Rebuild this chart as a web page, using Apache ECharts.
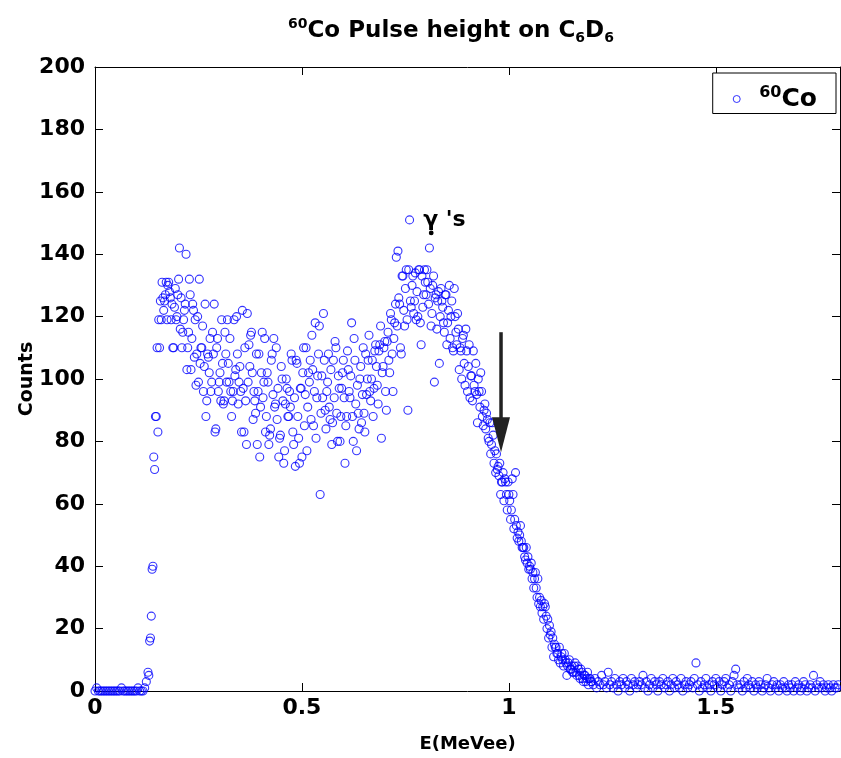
<!DOCTYPE html>
<html><head><meta charset="utf-8">
<script src="https://cdn.jsdelivr.net/npm/echarts@6/dist/echarts.min.js"></script>
<style>html,body{margin:0;padding:0;background:#fff}#c{width:841px;height:758px}</style>
</head><body><div id="c"></div>
<script>
// Energy calibration of the pulse-height channels (MeVee per channel)
const channelWidthMeV = 0.004;
// Counts per channel (channel 0 .. 449, at E = ch * width)
const counts = [
  0,1,0,0,0,0,0,0,0,0,
  0,0,0,0,0,0,1,0,0,0,
  0,0,0,0,0,0,1,0,0,0,
  1,3,6,16,24,40,71,88,83,110,
  119,126,125,131,130,128,119,110,123,119,
  127,142,126,115,122,140,110,132,103,124,
  107,98,120,132,110,117,104,88,108,102,
  96,115,124,84,113,99,93,105,93,108,
  119,99,96,93,119,103,108,99,96,122,
  83,93,121,111,114,102,96,89,79,108,
  91,115,99,83,102,79,84,108,113,92,
  87,75,82,100,73,92,97,88,91,106,
  79,72,105,81,97,75,110,95,77,102,
  106,114,85,118,94,108,63,101,121,90,
  96,108,87,79,106,112,89,101,80,97,
  106,73,88,103,94,118,80,106,77,89,
  100,86,110,83,95,106,96,100,88,109,
  104,92,111,81,104,112,90,115,102,119,
  96,118,139,141,124,108,133,117,135,90,
  151,123,133,125,119,120,135,111,123,135,
  127,131,142,117,130,99,127,125,105,129,
  123,115,127,118,130,120,110,129,115,121,
  103,109,113,105,116,96,111,101,93,98,
  105,86,96,102,88,90,84,87,80,76,
  86,73,70,71,69,63,67,61,67,58,
  63,55,68,52,70,49,48,53,46,46,
  42,41,39,39,36,33,38,30,28,27,
  25,23,27,20,17,18,14,11,14,12,
  10,9,12,8,10,5,9,7,8,6,
  9,5,7,4,6,3,5,4,2,4,
  3,2,4,1,3,2,5,2,3,1,
  6,2,3,1,4,2,0,3,2,4,
  1,3,2,0,4,2,3,1,2,3,
  2,5,1,3,0,2,4,1,3,2,
  0,3,2,4,1,2,3,0,2,4,
  1,3,2,1,4,0,2,3,1,2,
  3,1,4,9,2,0,3,1,2,4,
  1,2,0,3,2,4,1,3,0,2,
  3,4,1,2,0,3,5,7,2,1,
  2,0,3,1,4,2,1,3,0,2,
  1,3,2,0,1,2,4,1,0,2,
  3,1,2,0,2,1,3,1,0,2,
  1,2,0,3,1,2,0,1,3,2,
  0,1,2,1,5,0,2,1,3,1,
  2,0,1,2,1,0,2,1,1,2
];
// Half-channel readings (E = (k + 0.5) * width), k = 32 .. 299
const halfChannelStart = 32;
const countsHalf = [
  5,17,39,75,88,110,119,125,
  131,122,127,119,131,126,124,110,129,120,
  132,116,110,119,124,103,115,127,113,122,
  119,108,99,105,110,96,124,93,107,113,
  99,108,83,110,96,102,119,92,115,99,
  105,113,88,96,101,120,92,104,83,97,
  110,79,99,104,115,87,93,108,96,75,
  102,94,113,88,99,82,106,95,91,110,
  97,81,104,93,77,100,88,96,108,83,
  94,106,88,73,97,102,85,110,91,99,
  87,103,96,81,101,117,89,94,106,84,
  99,91,103,86,94,110,80,97,88,102,
  94,85,109,96,101,88,113,92,98,84,
  104,95,89,108,100,114,93,106,97,111,
  98,109,117,102,110,96,112,106,121,108,
  113,124,117,126,110,133,122,129,119,135,
  125,130,121,134,128,135,118,133,127,131,
  135,124,129,121,133,126,116,128,120,125,
  118,127,111,122,113,125,109,120,111,116,
  110,100,114,98,109,104,94,101,109,96,
  95,100,91,96,85,92,89,81,86,79,
  82,77,76,72,73,67,70,68,63,67,
  61,58,63,55,53,51,50,48,46,43,
  46,43,40,41,38,36,33,36,30,29,
  27,28,24,23,21,19,17,15,14,12,
  14,11,10,12,9,8,10,7,6,8,
  6,8,5,7,4,5,3,6,4,3
];
const seriesName = '60Co';
const xRange = [0, 1.8];
const yRange = [0, 200];
const xInterval = 0.5;
const yInterval = 20;
// annotation anchors in data space
const arrowE = 0.981, arrowTopCounts = 115, arrowTipCounts = 76.5;
const gammaLabelE = 0.793, gammaLabelCounts = 151;

const points = counts.map((c, i) => [i * channelWidthMeV, c])
  .concat(countsHalf.map((c, j) => [(halfChannelStart + j + 0.5) * channelWidthMeV, c]));

const FONT = 'DejaVu Sans';
const lblStyle = {color:'#000', fontFamily:FONT, fontWeight:'bold', fontSize:22};
const chart = echarts.init(document.getElementById('c'), null, {renderer:'canvas'});
const axisCommon = {
  axisLine:{show:true, onZero:false, lineStyle:{color:'#000', width:1}},
  axisTick:{show:true, inside:true, length:8, lineStyle:{color:'#000', width:1}},
  splitLine:{show:false}
};
const option = {
  animation:false,
  backgroundColor:'#fff',
  title:{
    text:'{sup|60}{main|Co Pulse height on C}{sub|6}{main|D}{sub|6}',
    left:288, top:17, padding:0,
    textStyle:{rich:{
      main:{fontSize:23, fontWeight:'bold', fontFamily:FONT, color:'#000', lineHeight:28},
      sup:{fontSize:14, fontWeight:'bold', fontFamily:FONT, color:'#000', lineHeight:2, verticalAlign:'top'},
      sub:{fontSize:14, fontWeight:'bold', fontFamily:FONT, color:'#000', lineHeight:2, verticalAlign:'bottom'}
    }}
  },
  legend:{
    right:5, top:73, orient:'vertical',
    backgroundColor:'#fff', borderColor:'#000', borderWidth:1, borderRadius:0,
    padding:[12,19,2,20],
    itemWidth:35, itemHeight:7, icon:'circle',
    itemStyle:{color:'rgba(0,0,0,0)', borderColor:'#0000ff', borderWidth:1},
    formatter: () => '{sup|60}{main|Co}',
    textStyle:{rich:{
      main:{fontSize:25, fontWeight:'bold', fontFamily:FONT, color:'#000', lineHeight:28},
      sup:{fontSize:16, fontWeight:'bold', fontFamily:FONT, color:'#000', lineHeight:2, verticalAlign:'top'}
    }},
    data:[seriesName]
  },
  grid:{left:95, right:1, top:67, bottom:67, containLabel:false},
  xAxis:[
    Object.assign({type:'value', min:xRange[0], max:xRange[1], interval:xInterval, position:'bottom',
      axisLabel:Object.assign({margin:6, showMaxLabel:false}, lblStyle),
      name:'E(MeVee)', nameLocation:'middle', nameGap:44, nameMoveOverlap:false,
      nameTextStyle:{color:'#000', fontFamily:FONT, fontWeight:'bold', fontSize:18}}, axisCommon),
    Object.assign({type:'value', min:xRange[0], max:xRange[1], interval:xInterval, position:'top',
      axisLabel:{show:false}}, axisCommon)
  ],
  yAxis:[
    Object.assign({type:'value', min:yRange[0], max:yRange[1], interval:yInterval, position:'left',
      axisLabel:Object.assign({margin:10}, lblStyle),
      name:'Counts', nameLocation:'middle', nameGap:58, nameMoveOverlap:false,
      nameTextStyle:{color:'#000', fontFamily:FONT, fontWeight:'bold', fontSize:19}}, axisCommon),
    Object.assign({type:'value', min:yRange[0], max:yRange[1], interval:yInterval, position:'right',
      axisLabel:{show:false}}, axisCommon)
  ],
  series:[{
    name:seriesName, type:'scatter', data:points,
    symbol:'circle', symbolSize:8, clip:false,
    itemStyle:{color:'rgba(0,0,0,0)', borderColor:'#0000ff', borderWidth:1.1},
    emphasis:{disabled:true}, silent:true
  }]
};
chart.setOption(option);

const [ax, ayTop] = chart.convertToPixel({xAxisIndex:0, yAxisIndex:0}, [arrowE, arrowTopCounts]);
const [, ayTip] = chart.convertToPixel({xAxisIndex:0, yAxisIndex:0}, [arrowE, arrowTipCounts]);
const [gx, gy] = chart.convertToPixel({xAxisIndex:0, yAxisIndex:0}, [gammaLabelE, gammaLabelCounts]);
const headLen = 35, headHalf = 9;
chart.setOption({graphic:[
  {type:'line', shape:{x1:ax, y1:ayTop, x2:ax, y2:ayTip - headLen + 2}, style:{stroke:'#222', lineWidth:3.5}, z:100},
  {type:'polygon', shape:{points:[[ax-headHalf, ayTip-headLen],[ax+headHalf, ayTip-headLen],[ax, ayTip]]}, style:{fill:'#222'}, z:100},
  {type:'text', x:gx, y:gy, style:{text:"γ 's", font:'bold 22px "DejaVu Sans"', fill:'#000', verticalAlign:'middle', align:'left'}, z:100},
  {type:'circle', shape:{cx:gx+8, cy:gy+13, r:2.4}, style:{fill:'#000'}, z:101}
]});
</script></body></html>
